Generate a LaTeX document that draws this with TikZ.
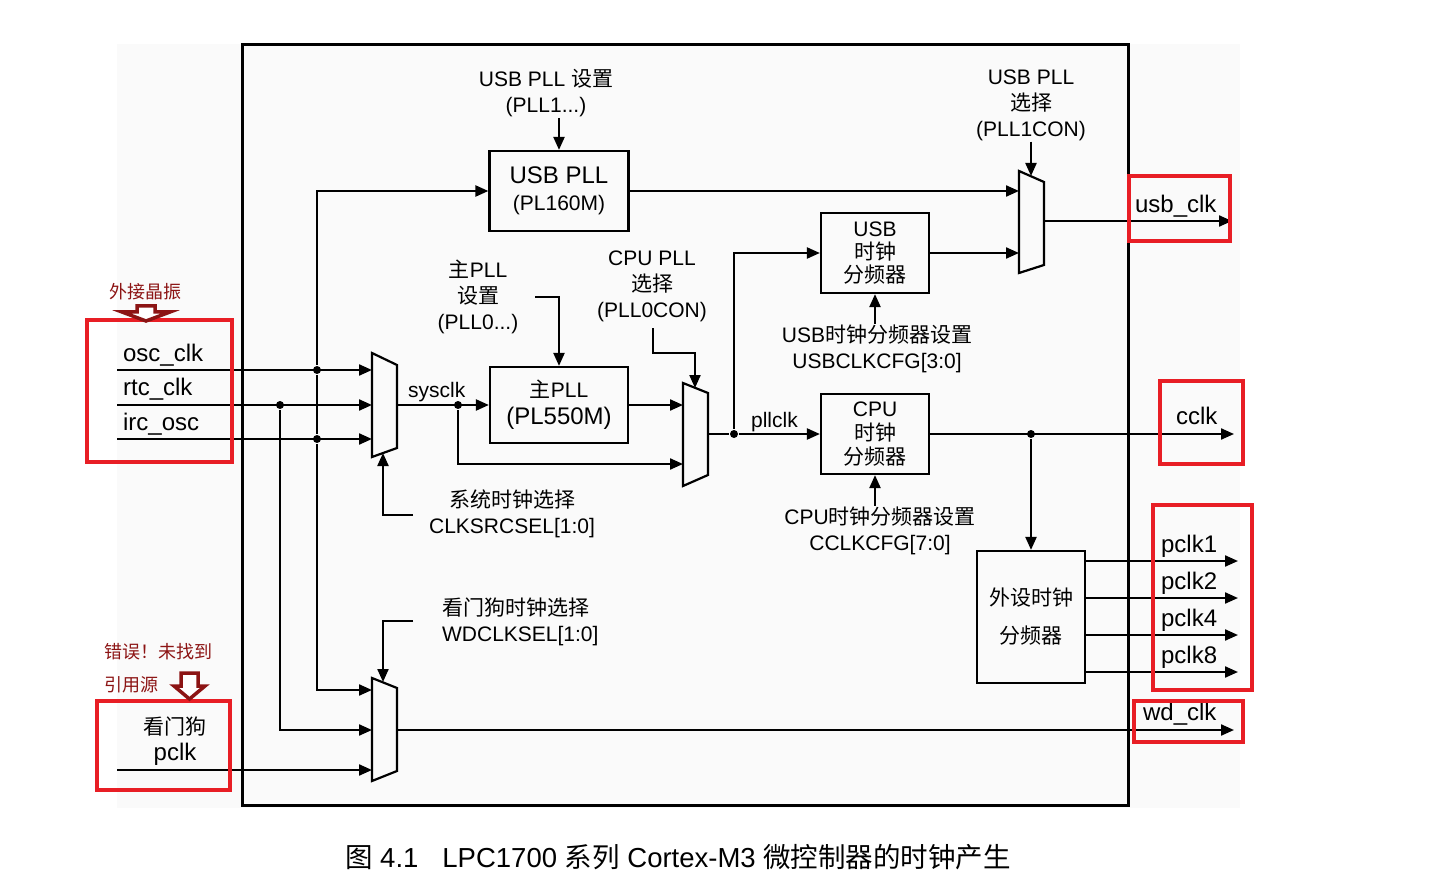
\documentclass[tikz,border=0pt]{standalone}
\usepackage{fontspec}
\setmainfont{Liberation Sans}
\newfontfamily\zhfont{Noto Sans CJK SC}
\newcommand{\zh}[1]{{\zhfont #1}}
\usepackage{tikz}
\usetikzlibrary{arrows.meta,positioning,calc}
\definecolor{hlred}{RGB}{232,30,37}
\definecolor{notered}{RGB}{140,20,20}
\definecolor{bgpaper}{RGB}{250,250,250}

\begin{document}
\begin{tikzpicture}
 [x=1pt,y=-1pt,line width=2.2pt,>={Triangle[length=13pt,width=11pt]},
  blk/.style={draw,inner sep=0pt,align=center,font=\fontsize{21}{27}\selectfont},
  jn/.style={circle,fill=black,inner sep=0pt,minimum size=8pt},
  lbl/.style={inner sep=0pt,align=center,font=\fontsize{21}{26}\selectfont},
  sig/.style={inner sep=0pt,anchor=base west,font=\fontsize{24}{28}\selectfont},
  muxs/.style={draw,line join=miter},
  hl/.style={draw=hlred,line width=4pt},
  warn/.style={draw=notered,fill=white,line width=3.5pt,line join=miter},
  note/.style={text=notered,inner sep=0pt,font=\fontsize{18}{33}\selectfont}]
 \useasboundingbox (0,0) rectangle (1439,882);
 \fill[bgpaper] (117,44) rectangle (1240,808);
 \draw[line width=3pt] (242,45) rectangle (1128,805);
 % blocks
 \node[blk,minimum width=139pt,minimum height=80pt] (usbpll) at (559,191) {{\fontsize{24}{28}\selectfont USB PLL}\\(PL160M)};
 \node[blk,minimum width=138pt,minimum height=76pt] (mainpll) at (559,405) {\zh{主}PLL\\{\fontsize{24}{28}\selectfont (PL550M)}};
 \node[blk,minimum width=108pt,minimum height=80pt,font=\fontsize{21}{23}\selectfont] (usbdiv) at (875,253) {USB\\\zh{时钟}\\\zh{分频器}};
 \node[blk,minimum width=108pt,minimum height=80pt,font=\fontsize{21}{24}\selectfont] (cpudiv) at (875,434) {CPU\\\zh{时钟}\\\zh{分频器}};
 \node[blk,minimum width=108pt,minimum height=132pt,font=\fontsize{21}{38}\selectfont] (periph) at (1031,617) {\zh{外设时钟}\\\zh{分频器}};
 % muxes
 \draw[muxs] (372,353) -- (397,365) -- (397,448) -- (372,457) -- cycle;
 \draw[muxs] (683,383) -- (708,393) -- (708,475) -- (683,486) -- cycle;
 \draw[muxs] (1019,171) -- (1044,182) -- (1044,265) -- (1019,273) -- cycle;
 \draw[muxs] (372,678) -- (397,688) -- (397,771) -- (372,781) -- cycle;
 \coordinate (m1a) at (372,370);
 \coordinate (m1b) at (372,405);
 \coordinate (m1c) at (372,439);
 \coordinate (m1o) at (397,405);
 \coordinate (m1s) at (383,453);
 \coordinate (m2a) at (683,405);
 \coordinate (m2b) at (683,464);
 \coordinate (m2o) at (708,434);
 \coordinate (m2s) at (695,388);
 \coordinate (m3a) at (1019,191);
 \coordinate (m3b) at (1019,253);
 \coordinate (m3o) at (1044,221);
 \coordinate (m3s) at (1031,176);
 \coordinate (m4a) at (372,690);
 \coordinate (m4b) at (372,730);
 \coordinate (m4c) at (372,770);
 \coordinate (m4o) at (397,730);
 \coordinate (m4s) at (383,682);
 % free ends
 \coordinate (osc) at (117,370);
 \coordinate (rtc) at (117,405);
 \coordinate (irc) at (117,439);
 \coordinate (wdpclk) at (117,770);
 \coordinate (usbclk) at (1232,221);
 \coordinate (cclk) at (1234,434);
 \coordinate (wdclk) at (1234,730);
 \coordinate (s1) at (413,515);
 \coordinate (s2) at (535,297);
 \coordinate (s3) at (653,328);
 \coordinate (s3b) at (695,353);
 \coordinate (s4) at (413,621);
 % junctions
 \node[jn] (josc) at (317,370) {};
 \node[jn] (jrtc) at (280,405) {};
 \node[jn] (jirc) at (317,439) {};
 \node[jn] (jsys) at (458,405) {};
 \node[jn] (jpll) at (734,434) {};
 \node[jn] (jcpu) at (1031,434) {};
 % labels
 \node[lbl] (usbpllset) at (546,93) {USB PLL \zh{设置}\\(PLL1...)};
 \node[lbl] (usbsel) at (1031,105) {USB PLL\\\zh{选择}\\(PLL1CON)};
 \node[lbl] (pllset) at (478,297) {\zh{主}PLL\\\zh{设置}\\(PLL0...)};
 \node[lbl] (cpusel) at (652,286) {CPU PLL\\\zh{选择}\\(PLL0CON)};
 \node[lbl] (usbdivset) at (877,349) {USB\zh{时钟分频器设置}\\USBCLKCFG[3:0]};
 \node[lbl] (clksrc) at (512,514) {\zh{系统时钟选择}\\CLKSRCSEL[1:0]};
 \node[lbl] (cpudivset) at (880,531) {CPU\zh{时钟分频器设置}\\CCLKCFG[7:0]};
 \node[lbl,align=left,anchor=west] (wdsel) at (441,622) {\zh{看门狗时钟选择}\\WDCLKSEL[1:0]};
 \node[sig] (losc) at (122,361) {osc\_clk};
 \node[sig] (lrtc) at (122,395) {rtc\_clk};
 \node[sig] (lirc) at (122,430) {irc\_osc};
 \node[sig,font=\fontsize{21}{24}\selectfont] (lsys) at (407,397) {sysclk};
 \node[sig,font=\fontsize{21}{24}\selectfont] (lpll) at (750,427) {pllclk};
 \node[sig] (lusb) at (1134,213) {usb\_clk};
 \node[sig] (lcclk) at (1175,424) {cclk};
 \node[sig] (lwd) at (1142,720) {wd\_clk};
 \node[lbl] (lwdp) at (175,741) {\zh{看门狗}\\{\fontsize{24}{28}\selectfont pclk}};
 % connectors
 \draw[->] (osc) -- (m1a);
 \draw[->] (rtc) -- (m1b);
 \draw[->] (irc) -- (m1c);
 \draw[->] (wdpclk) -- (m4c);
 \draw[->] (josc) |- (usbpll);
 \draw (josc) -- (jirc);
 \draw[->] (jirc) |- (m4a);
 \draw[->] (jrtc) |- (m4b);
 \draw[->] (m1o) -- (mainpll);
 \draw[->] (jsys) |- (m2b);
 \draw[->] (mainpll) -- (m2a);
 \draw (m2o) -- (jpll);
 \draw[->] (jpll) -- (cpudiv);
 \draw[->] (jpll) |- (usbdiv);
 \draw[->] (usbpll) -- (m3a);
 \draw[->] (usbdiv) -- (m3b);
 \draw[->] (m3o) -- (usbclk);
 \draw[->] (cpudiv) -- (cclk);
 \draw[->] (jcpu) -- (periph);
 \foreach \y/\n [count=\i] in {561/1,598/2,635/4,672/8} {
   \coordinate (pc\i) at (1238,\y);
   \draw[->] (periph.east |- pc\i) -- (pc\i);
   \node[sig] (lpc\i) at (1160,\y-9) {pclk\n};
 }
 \draw[->] (m4o) -- (wdclk);
 % selects
 \draw[->] (s1) -| (m1s);
 \draw[->] (s4) -| (m4s);
 \draw[->] (s2) -| (mainpll);
 \draw[->] (s3) |- (s3b) -- (m2s);
 \draw[->] (usbpllset.south -| usbpll.north) -- (usbpll.north);
 \draw[->] (usbsel) -- (m3s);
 \draw[->] (usbdivset.north -| usbdiv.south) -- (usbdiv.south);
 \draw[->] (cpudivset.north -| cpudiv.south) -- (cpudiv.south);
 % marks
 \draw[hl] (87,320) rectangle (232,462);
 \draw[hl] (97,701) rectangle (230,790);
 \draw[hl] (1129,176) rectangle (1230,241);
 \draw[hl] (1160,381) rectangle (1243,464);
 \draw[hl] (1153,505) rectangle (1252,690);
 \draw[hl] (1134,701) rectangle (1243,742);
 \node[note] (nosc) at (145,292) {\zh{外接晶振}};
 \node[note,align=left,anchor=west] (nwd) at (103,668) {\zh{错误！未找到}\\\zh{引用源}};
 \draw[warn] (137,306) -- (155,306) -- (155,312) -- (170,312) -- (146,321) -- (122,312) -- (137,312) -- cycle;
 \draw[warn] (181,673) -- (198,673) -- (198,686) -- (205,686) -- (189.5,699) -- (174,686) -- (181,686) -- cycle;
 \node[anchor=base west,inner sep=0pt,font=\fontsize{27.5}{32}\selectfont] (cap) at (344,867) {\zh{图} 4.1\hspace{24pt}LPC1700 \zh{系列} Cortex-M3 \zh{微控制器的时钟产生}};
\end{tikzpicture}
\end{document}
